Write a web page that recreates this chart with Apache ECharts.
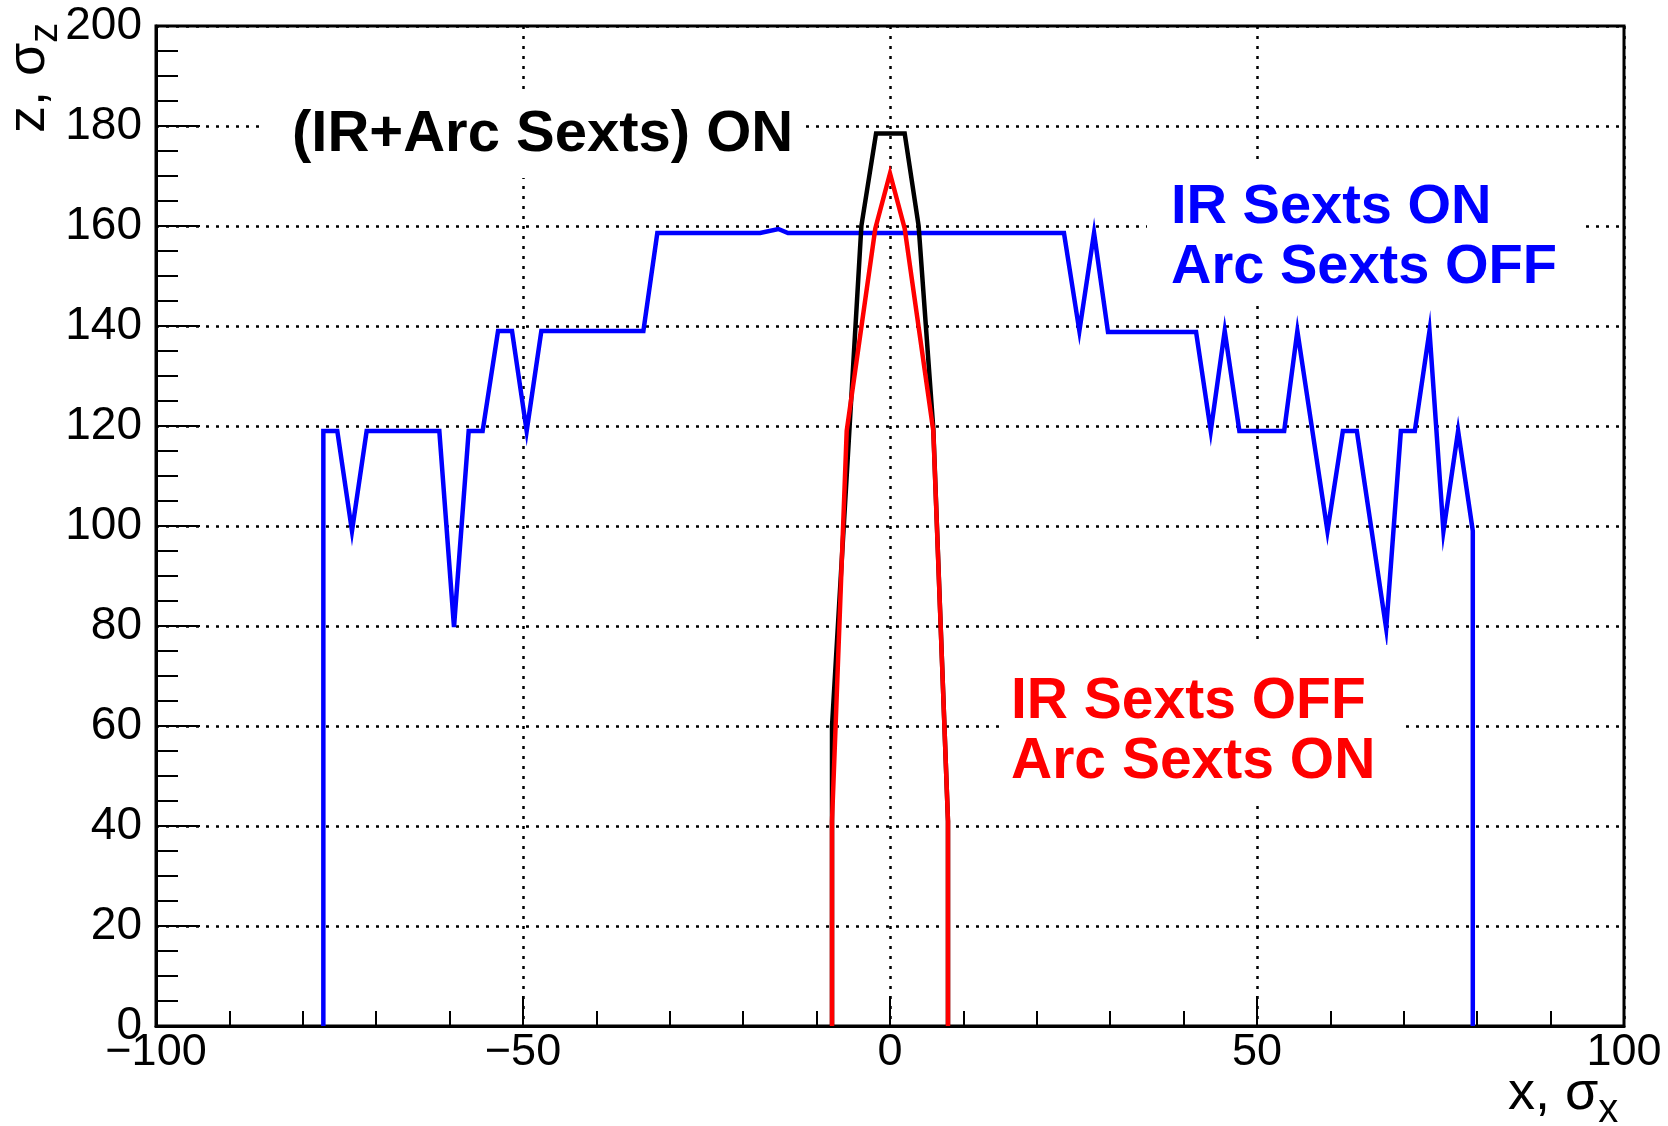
<!DOCTYPE html>
<html><head><meta charset="utf-8">
<script src="https://cdn.jsdelivr.net/npm/echarts@6/dist/echarts.min.js"></script>
<style>html,body{margin:0;padding:0;background:#fff}#c{width:1668px;height:1126px}</style>
</head><body><div id="c"></div>
<script>
// ---- data ----
const xRange = [-100, 100];
const xStep = 50;
const yRange = [0, 200];
const yStep = 20;

// IR Sexts ON, Arc Sexts OFF (blue)
const blueX = [-77.2, -77.2, -75.3, -73.3, -71.3, -61.4, -59.4, -57.4, -55.5, -53.4, -51.5, -49.5, -47.5,
  -33.6, -31.7, -17.7, -15.2, -13.9, 23.7, 25.8, 27.8, 29.7, 41.7, 43.7, 45.6, 47.6, 53.7, 55.5,
  59.6, 61.7, 63.6, 67.6, 69.6, 71.5, 73.5, 75.4, 77.4, 79.4, 79.4];
const blueY = [0, 119, 119, 99, 119, 119, 79.8, 119, 119, 139, 139, 119, 139,
  139, 158.6, 158.6, 159.4, 158.6, 158.6, 139, 158.6, 138.8, 138.8, 119, 139, 119, 119, 139,
  99, 119, 119, 79.5, 119, 119, 139, 99, 119, 99, 0];

// (IR+Arc Sexts) ON (black)
const blackX = [-7.9, -7.9, -5.9, -3.9, -1.9, 2.0, 3.9, 5.9, 7.9, 7.9];
const blackY = [0, 60, 110, 160, 178.5, 178.5, 160, 119.5, 41, 0];

// IR Sexts OFF, Arc Sexts ON (red)
const redX = [-7.9, -7.9, -5.9, -2.0, 0, 2.0, 5.9, 7.9, 7.9];
const redY = [0, 41, 119, 159.5, 170.5, 159.5, 119, 41, 0];

const textBoth = '(IR+Arc Sexts) ON';
const textBlue = ['IR Sexts ON', 'Arc Sexts OFF'];
const textRed = ['IR Sexts OFF', 'Arc Sexts ON'];
const xTitle = ['x, σ', 'x'];
const yTitle = ['z, σ', 'z'];

// ---- chart ----
function pairs(xs, ys) { return xs.map((x, i) => [x, ys[i]]); }
const LBL = '"Liberation Sans", Arial, sans-serif';
const ANN = '"Comic Sans MS", "Liberation Sans", sans-serif';

const mctx = document.createElement('canvas').getContext('2d');
function tw(str, size) { mctx.font = size + 'px ' + LBL; return mctx.measureText(str).width; }

const titleSize = 54, subSize = 40;
const xMainW = tw(xTitle[0], titleSize);
const yMainW = tw(yTitle[0], titleSize);

const chart = echarts.init(document.getElementById('c'), null, {renderer: 'canvas'});
const fmt = v => (v < 0 ? '\u2212' + Math.abs(v) : String(v));
const dotted = {color: '#000', width: 2.5, type: [3, 7]};

chart.setOption({
  animation: false,
  backgroundColor: '#fff',
  grid: {left: 156, top: 26, width: 1468, height: 1000, show: true, borderColor: '#000', borderWidth: 3, backgroundColor: 'transparent', containLabel: false},
  xAxis: {
    type: 'value', min: xRange[0], max: xRange[1], interval: xStep,
    axisLine: {show: true, onZero: false, lineStyle: {color: '#000', width: 3}},
    axisTick: {show: true, inside: true, length: 30, lineStyle: {color: '#000', width: 2}},
    minorTick: {show: true, splitNumber: 5, length: 15, lineStyle: {color: '#000', width: 2}},
    splitLine: {show: true, lineStyle: dotted},
    axisLabel: {show: true, color: '#000', fontSize: 45, fontFamily: LBL, margin: 4, formatter: fmt, showMinLabel: true, showMaxLabel: true}
  },
  yAxis: {
    type: 'value', min: yRange[0], max: yRange[1], interval: yStep,
    axisLine: {show: true, onZero: false, lineStyle: {color: '#000', width: 3}},
    axisTick: {show: true, inside: true, length: 44, lineStyle: {color: '#000', width: 2}},
    minorTick: {show: true, splitNumber: 4, length: 22, lineStyle: {color: '#000', width: 2}},
    splitLine: {show: true, lineStyle: dotted},
    axisLabel: {show: true, color: '#000', fontSize: 46, fontFamily: LBL, margin: 14, formatter: fmt, showMinLabel: true, showMaxLabel: true}
  },
  series: [
    {type: 'line', data: pairs(blueX, blueY), symbol: 'none', showSymbol: false, z: 3,
      lineStyle: {color: '#0000ff', width: 4.5, join: 'miter', miterLimit: 10}},
    {type: 'line', data: pairs(blackX, blackY), symbol: 'none', showSymbol: false, z: 4,
      lineStyle: {color: '#000000', width: 4.5, join: 'miter', miterLimit: 10}},
    {type: 'line', data: pairs(redX, redY), symbol: 'none', showSymbol: false, z: 5,
      lineStyle: {color: '#ff0000', width: 4.5, join: 'miter', miterLimit: 10}}
  ],
  graphic: [
    {type: 'rect', z: 50, shape: {x: 265, y: 92, width: 535, height: 86}, style: {fill: '#fff'}},
    {type: 'text', z: 51, x: 292, y: 135, style: {text: textBoth, fill: '#000', fontSize: 58, fontWeight: 'bold', fontFamily: ANN, align: 'left', verticalAlign: 'middle'}},

    {type: 'rect', z: 50, shape: {x: 1147, y: 165, width: 436, height: 140}, style: {fill: '#fff'}},
    {type: 'text', z: 51, x: 1171, y: 207.5, style: {text: textBlue[0], fill: '#0000ff', fontSize: 56, fontWeight: 'bold', fontFamily: ANN, align: 'left', verticalAlign: 'middle'}},
    {type: 'text', z: 51, x: 1171, y: 268, style: {text: textBlue[1], fill: '#0000ff', fontSize: 56, fontWeight: 'bold', fontFamily: ANN, align: 'left', verticalAlign: 'middle'}},

    {type: 'rect', z: 50, shape: {x: 1000, y: 645, width: 404, height: 160}, style: {fill: '#fff'}},
    {type: 'text', z: 51, x: 1011, y: 702, style: {text: textRed[0], fill: '#ff0000', fontSize: 57, fontWeight: 'bold', fontFamily: ANN, align: 'left', verticalAlign: 'middle'}},
    {type: 'text', z: 51, x: 1011, y: 762, style: {text: textRed[1], fill: '#ff0000', fontSize: 57, fontWeight: 'bold', fontFamily: ANN, align: 'left', verticalAlign: 'middle'}},

    // x axis title
    {type: 'text', z: 51, x: 1508, y: 1094, style: {text: xTitle[0], fill: '#000', fontSize: titleSize, fontFamily: LBL, align: 'left', verticalAlign: 'middle'}},
    {type: 'text', z: 51, x: 1508 + xMainW, y: 1111, style: {text: xTitle[1], fill: '#000', fontSize: subSize, fontFamily: LBL, align: 'left', verticalAlign: 'middle'}},
    // y axis title (rotated)
    {type: 'text', z: 51, x: 29, y: 133, rotation: Math.PI / 2, style: {text: yTitle[0], fill: '#000', fontSize: titleSize, fontFamily: LBL, align: 'left', verticalAlign: 'middle'}},
    {type: 'text', z: 51, x: 46, y: 133 - yMainW, rotation: Math.PI / 2, style: {text: yTitle[1], fill: '#000', fontSize: subSize, fontFamily: LBL, align: 'left', verticalAlign: 'middle'}}
  ]
});
</script>
</body></html>
